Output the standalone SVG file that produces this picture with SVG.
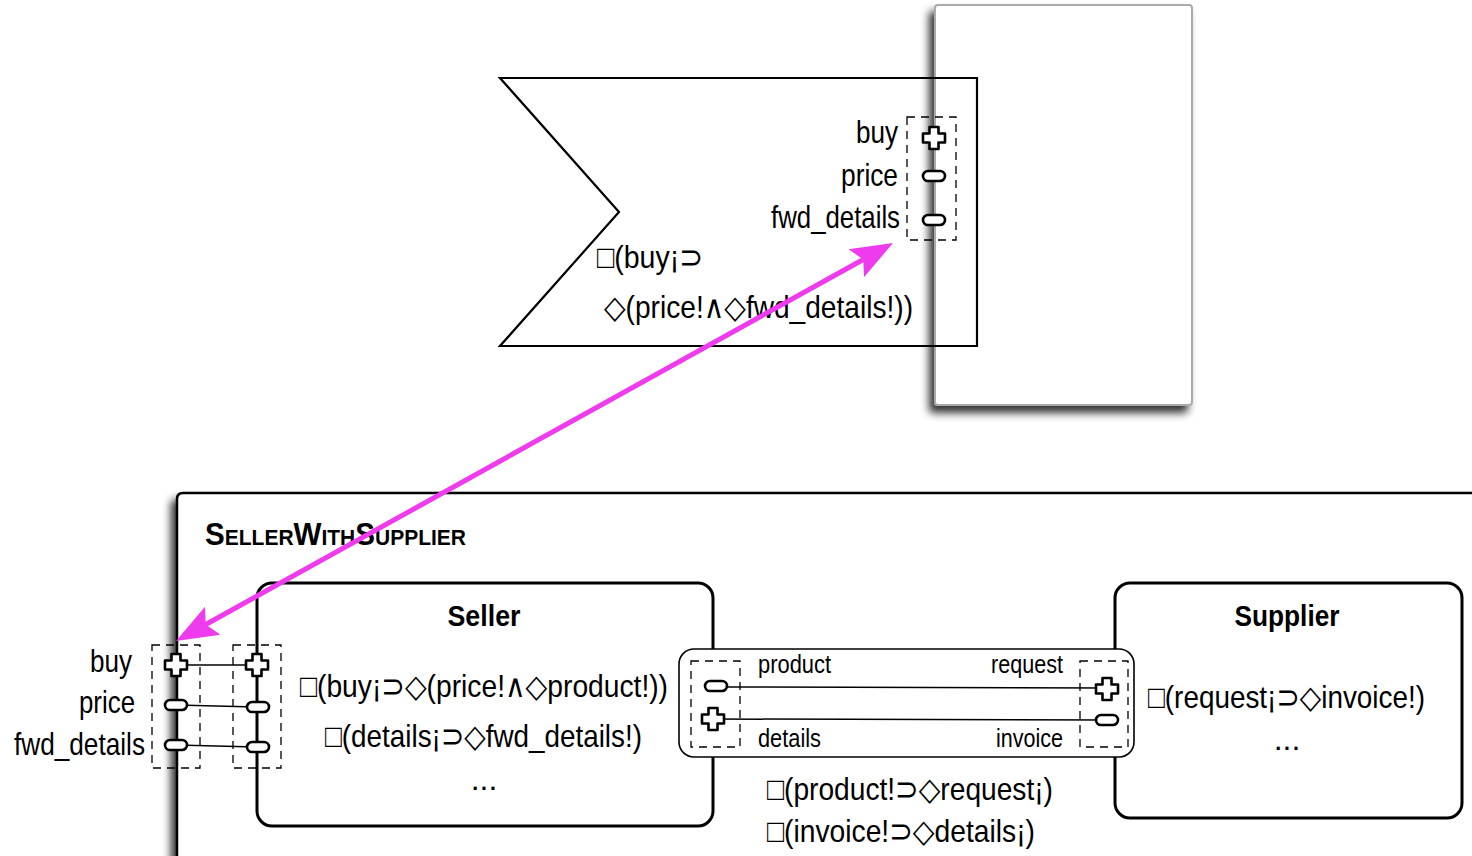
<svg xmlns="http://www.w3.org/2000/svg" width="1472" height="856" viewBox="0 0 1472 856">
<defs>
<filter id="sh" x="-10%" y="-10%" width="130%" height="130%">
<feGaussianBlur in="SourceAlpha" stdDeviation="4.5"/>
<feOffset dx="-5" dy="7" result="b"/>
<feComponentTransfer><feFuncA type="linear" slope="0.8"/></feComponentTransfer>
<feMerge><feMergeNode/><feMergeNode in="SourceGraphic"/></feMerge>
</filter>
<path id="plus" d="M-4.5,-11 H4.5 V-4.5 H11 V4.5 H4.5 V11 H-4.5 V4.5 H-11 V-4.5 H-4.5 Z"/>
<rect id="minus" x="-11" y="-5" width="22" height="10" rx="5"/>
</defs>
<style>
text{font-family:"Liberation Sans","DejaVu Sans",sans-serif;fill:#000}
.f{font-size:32px}
.l{font-size:26px}
.t{font-size:30px;font-weight:bold}
.port{fill:#fff;stroke:#000;stroke-width:2.6;stroke-linejoin:round}
.dash{fill:none;stroke:#000;stroke-width:1.3;stroke-dasharray:8,6}
.thin{stroke:#000;stroke-width:1.5;fill:none}
</style>
<rect width="1472" height="856" fill="#fff"/>

<g id="composite">
<path d="M177,870 V499 Q177,493 183,493 H1490 V870 Z" fill="#fff" stroke="#000" stroke-width="2.5" filter="url(#sh)"/>
<text x="205" y="545" font-size="31" font-weight="bold" font-variant="small-caps" textLength="261" lengthAdjust="spacingAndGlyphs">SellerWithSupplier</text>
</g>

<g id="env">
<rect x="935" y="5" width="257" height="400" rx="3" fill="#fff" stroke="#aaa" stroke-width="2" filter="url(#sh)"/>
</g>

<g id="flag">
<path d="M500,78 H977 V346 H500 L619,212 Z" fill="none" stroke="#000" stroke-width="2.2" stroke-linejoin="miter"/>
<rect class="dash" x="907" y="117" width="49" height="123"/>
<use href="#plus" class="port" x="934" y="138"/>
<use href="#minus" class="port" x="934" y="176"/>
<use href="#minus" class="port" x="934" y="220"/>
<text class="f" x="898" y="143" text-anchor="end" textLength="42" lengthAdjust="spacingAndGlyphs">buy</text>
<text class="f" x="898" y="186" text-anchor="end" textLength="57" lengthAdjust="spacingAndGlyphs">price</text>
<text class="f" x="900" y="228" text-anchor="end" textLength="129" lengthAdjust="spacingAndGlyphs">fwd_details</text>
<text class="f" x="597" y="268" textLength="106" lengthAdjust="spacingAndGlyphs">□(buy¡⊃</text>
<text class="f" x="604" y="318" textLength="309" lengthAdjust="spacingAndGlyphs">◇(price!∧◇fwd_details!))</text>
</g>

<g id="seller">
<rect x="257" y="583" width="456" height="243" rx="15" fill="#fff" stroke="#000" stroke-width="3"/>
<text class="t" x="484" y="626" text-anchor="middle" textLength="73" lengthAdjust="spacingAndGlyphs">Seller</text>
<text class="f" x="300" y="697" textLength="368" lengthAdjust="spacingAndGlyphs">□(buy¡⊃◇(price!∧◇product!))</text>
<text class="f" x="325" y="747" textLength="317" lengthAdjust="spacingAndGlyphs">□(details¡⊃◇fwd_details!)</text>
<text class="f" x="484" y="790" text-anchor="middle">...</text>
</g>

<g id="supplier">
<rect x="1115" y="583" width="347" height="235" rx="15" fill="#fff" stroke="#000" stroke-width="3"/>
<text class="t" x="1287" y="626" text-anchor="middle" textLength="105" lengthAdjust="spacingAndGlyphs">Supplier</text>
<text class="f" x="1148" y="708" textLength="277" lengthAdjust="spacingAndGlyphs">□(request¡⊃◇invoice!)</text>
<text class="f" x="1287" y="750" text-anchor="middle">...</text>
</g>

<g id="ports-left">
<rect class="dash" x="152" y="645" width="48" height="123"/>
<rect class="dash" x="233" y="645" width="48" height="123"/>
<line class="thin" x1="176" y1="665" x2="257" y2="665"/>
<line class="thin" x1="176" y1="705" x2="257" y2="707"/>
<line class="thin" x1="176" y1="745" x2="257" y2="747"/>
<use href="#plus" class="port" x="176" y="665"/>
<use href="#minus" class="port" x="176" y="705"/>
<use href="#minus" class="port" x="176" y="745"/>
<use href="#plus" class="port" x="257" y="665"/>
<use href="#minus" class="port" x="258" y="707"/>
<use href="#minus" class="port" x="258" y="747"/>
<text class="f" x="132" y="672" text-anchor="end" textLength="42" lengthAdjust="spacingAndGlyphs">buy</text>
<text class="f" x="135" y="713" text-anchor="end" textLength="56" lengthAdjust="spacingAndGlyphs">price</text>
<text class="f" x="145" y="755" text-anchor="end" textLength="131" lengthAdjust="spacingAndGlyphs">fwd_details</text>
</g>

<g id="connector">
<rect x="679" y="649" width="455" height="108" rx="15" fill="#fff" stroke="#000" stroke-width="1.6"/>
<rect class="dash" x="691" y="661" width="49" height="86"/>
<rect class="dash" x="1080" y="661" width="48" height="86"/>
<line class="thin" x1="716" y1="687" x2="1107" y2="688"/>
<line class="thin" x1="713" y1="719" x2="1107" y2="720"/>
<use href="#minus" class="port" x="716" y="686"/>
<use href="#plus" class="port" x="713" y="719"/>
<use href="#plus" class="port" x="1107" y="689"/>
<use href="#minus" class="port" x="1107" y="720"/>
<text class="l" x="758" y="673" textLength="73" lengthAdjust="spacingAndGlyphs">product</text>
<text class="l" x="1063" y="673" text-anchor="end" textLength="72" lengthAdjust="spacingAndGlyphs">request</text>
<text class="l" x="758" y="747" textLength="63" lengthAdjust="spacingAndGlyphs">details</text>
<text class="l" x="1063" y="747" text-anchor="end" textLength="67" lengthAdjust="spacingAndGlyphs">invoice</text>
<text class="f" x="767" y="800" textLength="286" lengthAdjust="spacingAndGlyphs">□(product!⊃◇request¡)</text>
<text class="f" x="767" y="842" textLength="268" lengthAdjust="spacingAndGlyphs">□(invoice!⊃◇details¡)</text>
</g>

<g id="connectors">
<line x1="205.7" y1="624.5" x2="863.3" y2="259.5" stroke="#ee3bee" stroke-width="5"/>
<polygon points="893,243 864,277.3 863.3,259.5 848.6,249.3" fill="#ee3bee"/>
<polygon points="176,641 205,606.7 205.7,624.5 220.4,634.7" fill="#ee3bee"/>
</g>
</svg>
